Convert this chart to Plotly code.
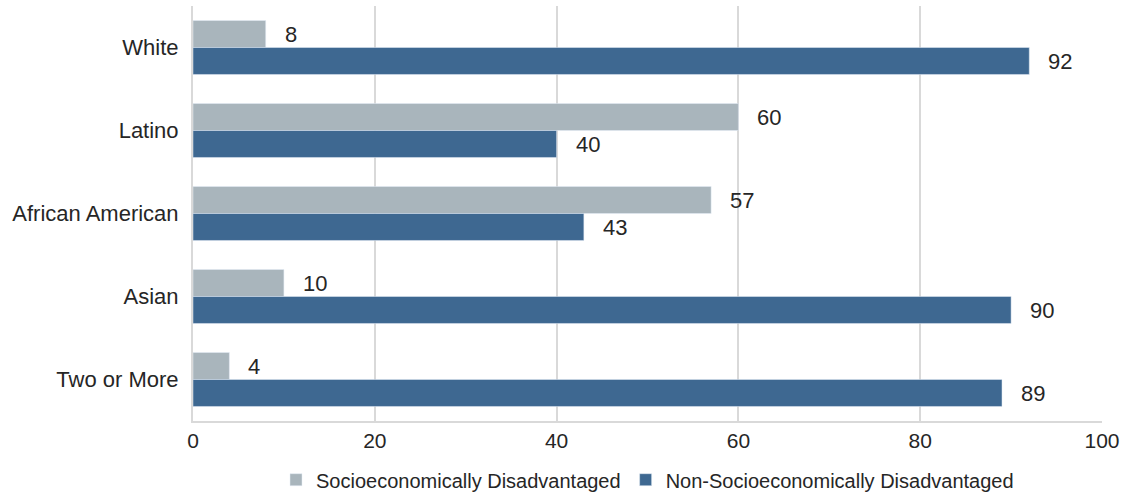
import plotly.graph_objects as go

categories = ["White", "Latino", "African American", "Asian", "Two or More"]
disadvantaged = [8, 60, 57, 10, 4]
non_disadvantaged = [92, 40, 43, 90, 89]
x_ticks = [0, 20, 40, 60, 80, 100]

GREY = "#A9B5BC"
BLUE = "#3E6891"
TEXT = "#262626"
FONT = "Liberation Sans, Arial, sans-serif"

fig = go.Figure()
fig.add_trace(go.Bar(
    y=categories, x=disadvantaged, orientation="h",
    name="Socioeconomically Disadvantaged", marker_color=GREY,
))
fig.add_trace(go.Bar(
    y=categories, x=non_disadvantaged, orientation="h",
    name="Non-Socioeconomically Disadvantaged", marker_color=BLUE,
))

# value labels just past the end of each bar
for vals, shift in ((disadvantaged, 13.5), (non_disadvantaged, -13.5)):
    for cat, v in zip(categories, vals):
        fig.add_annotation(
            x=v, y=cat, text=str(v), showarrow=False,
            xanchor="left", xshift=17, yshift=shift,
            font=dict(size=22, color=TEXT, family=FONT),
        )

fig.update_layout(
    width=1127, height=493,
    margin=dict(l=193, r=25, t=6, b=72, autoexpand=False),
    paper_bgcolor="white", plot_bgcolor="white",
    barmode="group", bargap=0.35, bargroupgap=0.0,
    font=dict(family=FONT, size=20, color=TEXT),
    showlegend=True,
    legend=dict(
        orientation="h", x=0.5, xanchor="center",
        yref="container", y=0.027, yanchor="middle",
        font=dict(size=20, color=TEXT), itemwidth=30,
    ),
)
fig.update_xaxes(
    range=[0, 100], tickvals=x_ticks,
    showgrid=True, gridcolor="#D9D9D9", gridwidth=2,
    showline=True, linecolor="#D9D9D9", linewidth=2,
    zeroline=False, ticks="", tickfont=dict(size=21, color=TEXT),
    ticklabelstandoff=0,
)
fig.update_yaxes(
    autorange="reversed", showgrid=False, ticks="",
    showline=True, linecolor="#D9D9D9", linewidth=2,
    tickfont=dict(size=22, color=TEXT), ticklabelstandoff=8,
)

fig.write_html("out.html")
